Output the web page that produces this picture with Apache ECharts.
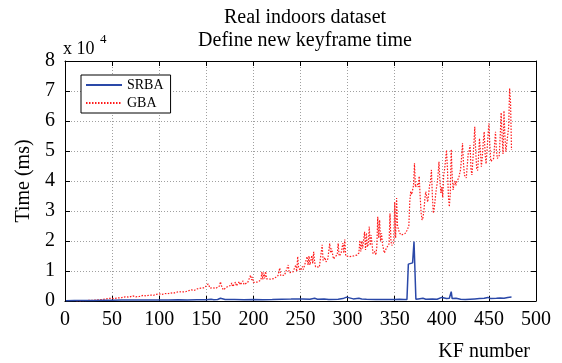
<!DOCTYPE html>
<html>
<head>
<meta charset="utf-8">
<script src="https://cdn.jsdelivr.net/npm/echarts@6/dist/echarts.min.js"></script>
<style>
  html, body { margin: 0; padding: 0; background: #fff; }
  #chart { width: 562px; height: 363px; }
</style>
</head>
<body>
<div id="chart"></div>
<script>
// Keyframe numbers and per-keyframe timings (ms)
const srbaKF = [1, 10, 20, 30, 40, 50, 60, 70, 80, 90, 100, 110, 120, 130, 140, 150, 155, 158, 160, 162, 165, 167, 170, 180, 190, 200, 210, 220, 230, 240, 248, 250, 252, 260, 265, 268, 275, 280, 290, 295, 299, 301, 306, 312, 315, 320, 330, 340, 350, 355, 360, 363, 364.5, 366, 369, 370.5, 372.5, 375, 380, 383, 390, 395, 400, 402, 405, 408, 410, 411, 415, 420, 425, 430, 435, 437, 440, 445, 449, 452, 458, 462, 466, 470, 474];
const srbaTime = [100, 150, 200, 200, 250, 250, 300, 300, 300, 350, 300, 350, 400, 350, 400, 450, 600, 450, 800, 500, 900, 600, 500, 500, 450, 500, 450, 500, 600, 650, 700, 1100, 700, 600, 900, 600, 700, 500, 600, 800, 1300, 800, 700, 900, 700, 600, 500, 500, 500, 600, 500, 500, 12300, 12400, 12700, 19800, 600, 700, 900, 600, 700, 600, 1200, 700, 800, 900, 3100, 800, 900, 600, 500, 600, 700, 1100, 800, 900, 1200, 800, 900, 1000, 900, 1200, 1300];

const gbaKF = [12, 20, 25, 30, 35, 40, 44, 48, 52, 56, 60, 64, 68, 72, 75, 79, 83, 86, 90, 94, 97, 100, 103, 106, 109, 112, 115, 118, 121, 124, 126, 128, 131, 134, 137, 140, 142, 144, 146, 148, 150, 152, 154, 157, 160, 162, 164, 165, 166, 168, 170, 172, 174, 176, 177, 178, 180, 181, 182, 184, 185, 186, 188, 189, 190, 192, 194, 196, 197, 198, 199, 200, 202, 204, 206, 208, 209, 210, 211, 212, 213, 214, 216, 218, 220, 222, 224, 226, 228, 229, 231, 233, 235, 237, 238, 240, 242, 244, 245, 246, 247, 248, 250, 252, 253, 255, 257, 258, 259, 260, 262, 263, 264, 265, 266, 268, 270, 272, 273, 274, 276, 277, 279, 281, 282, 283, 285, 287, 289, 290, 291, 293, 295, 296, 297, 298, 300, 302, 304, 306, 308, 310, 312, 313, 314, 315, 316, 318, 319, 320, 321, 322, 323, 324, 325, 327, 329, 330, 331, 332, 333, 334, 335, 336, 337, 339, 341, 343, 344, 345, 346, 347, 349, 350, 351, 352, 353, 355, 357, 359, 361, 363, 365, 366, 367, 368, 369, 370, 371, 372, 373, 374, 375, 376, 377, 378, 379, 380, 381, 382, 383, 384, 385, 386, 387, 388, 389, 390, 391, 392, 393, 394, 395, 396, 397, 398, 399, 400, 401, 402, 403, 404, 405, 406, 407, 408, 409, 410, 411, 412, 413, 414, 415, 416, 417, 418, 419, 420, 421, 422, 423, 424, 425, 426, 427, 428, 429, 430, 431, 432, 433, 434, 435, 436, 437, 438, 439, 440, 441, 442, 443, 444, 445, 446, 447, 448, 449, 450, 451, 452, 453, 454, 455, 456, 457, 458, 459, 460, 461, 462, 463, 464, 465, 466, 467, 468, 469, 470, 471, 472, 473, 474];
const gbaTime = [0, 100, 200, 250, 400, 500, 700, 900, 800, 1000, 1100, 1400, 1300, 1700, 1400, 1500, 1900, 1700, 2000, 1900, 2200, 2400, 2200, 2500, 2400, 2700, 2600, 2900, 3100, 3000, 3600, 3100, 3400, 3700, 3500, 4000, 3800, 4300, 4000, 4400, 4200, 5700, 4300, 4400, 4200, 4600, 5000, 6400, 5200, 3700, 4200, 4700, 4500, 5200, 6000, 4800, 5400, 6300, 5000, 5600, 6500, 5400, 5800, 6700, 5500, 6000, 6200, 6400, 8600, 7000, 8000, 6200, 6000, 6300, 6500, 7000, 9700, 7200, 9500, 7500, 9800, 7400, 7000, 7300, 7800, 7500, 8000, 8400, 11000, 8500, 8000, 8600, 9000, 12000, 9400, 9000, 9700, 10200, 12000, 9800, 14800, 11000, 10200, 11500, 10500, 11000, 14800, 12000, 15000, 12000, 15200, 12500, 16400, 13000, 11400, 11000, 11300, 11000, 18700, 13500, 14500, 13000, 14000, 19200, 16000, 17500, 14000, 14300, 15500, 19200, 15000, 15700, 19300, 16000, 20500, 15000, 14700, 14800, 15300, 15000, 15600, 15300, 16000, 20200, 16500, 20000, 17500, 23100, 17000, 22700, 18000, 19000, 24800, 18500, 22000, 15800, 16500, 15300, 18000, 28100, 21000, 27000, 20000, 22600, 19000, 16000, 17500, 17000, 19000, 29200, 20000, 18500, 19500, 33000, 21000, 34300, 25000, 22700, 22000, 21500, 22500, 23500, 25000, 33000, 36500, 35500, 37000, 38500, 45900, 38000, 37500, 39000, 38000, 41600, 35000, 29500, 27000, 27800, 30000, 34000, 36500, 37000, 33000, 35500, 38500, 40000, 43700, 35000, 29300, 31000, 34000, 37000, 39000, 42000, 46400, 40000, 36000, 38000, 34500, 42000, 44000, 47000, 50300, 44000, 35000, 31400, 36000, 50500, 42000, 37000, 39000, 40000, 38500, 40000, 39500, 41000, 40500, 44000, 48000, 52600, 46000, 42000, 41400, 41000, 45000, 49000, 50000, 52000, 44000, 42000, 47000, 52000, 58100, 50000, 44200, 43500, 48000, 54200, 50000, 44800, 48000, 53000, 56400, 49000, 45700, 50000, 55000, 59200, 52000, 46500, 47000, 46800, 47500, 52000, 56400, 50000, 47500, 48000, 48500, 55000, 62800, 55000, 49000, 63400, 55000, 49800, 50000, 50300, 58000, 70900, 66000, 50300];

const xTicks = { min: 0, max: 500, step: 50 };
const yTicks = { min: 0, max: 80000, step: 10000, scale: 10000 };

const pairs = (xs, ys) => xs.map((x, i) => [x, ys[i]]);

const FONT = 'Liberation Serif';
const gridLine = { show: true, lineStyle: { color: '#a0a0a0', type: [1, 2], width: 1 } };
const frameLine = { show: true, onZero: false, lineStyle: { color: '#000', width: 1 } };
const innerTick = { show: true, inside: true, length: 5, lineStyle: { color: '#000', width: 1 } };

const chart = echarts.init(document.getElementById('chart'), null, { renderer: 'canvas' });

chart.setOption({
  animation: false,
  backgroundColor: '#fff',
  textStyle: { fontFamily: FONT, color: '#000' },
  grid: { left: 65, right: 26, top: 61, bottom: 62, containLabel: false },
  graphic: [
    { type: 'text', x: 305, y: 8, style: { text: 'Real indoors dataset', font: '20px "Liberation Serif"', fill: '#000', textAlign: 'center' } },
    { type: 'text', x: 305, y: 31, style: { text: 'Define new keyframe time', font: '20px "Liberation Serif"', fill: '#000', textAlign: 'center' } },
    { type: 'text', x: 63, y: 40, style: { text: 'x 10', font: '18px "Liberation Serif"', fill: '#000' } },
    { type: 'text', x: 100, y: 33, style: { text: '4', font: '13px "Liberation Serif"', fill: '#000' } }
  ],
  legend: {
    left: 81, top: 75,
    orient: 'vertical',
    backgroundColor: '#fff',
    borderColor: '#000', borderWidth: 1, borderRadius: 0,
    padding: [3, 7, 3, 4],
    itemWidth: 36, itemHeight: 10, itemGap: 4,
    itemStyle: { opacity: 0 },
    textStyle: { fontFamily: FONT, fontSize: 14, color: '#000' },
    data: ['SRBA', 'GBA']
  },
  xAxis: [
    {
      type: 'value', position: 'bottom', min: xTicks.min, max: xTicks.max, interval: xTicks.step,
      axisLine: frameLine, axisTick: innerTick, splitLine: gridLine,
      axisLabel: { fontFamily: FONT, fontSize: 20, color: '#000', margin: 9 },
      name: 'KF number', nameLocation: 'end', nameGap: -6,
      nameTextStyle: { fontFamily: FONT, fontSize: 20, color: '#000', align: 'right', verticalAlign: 'top', padding: [41, 0, 0, 0] }
    },
    {
      type: 'value', position: 'top', min: xTicks.min, max: xTicks.max, interval: xTicks.step,
      axisLine: frameLine, axisTick: innerTick, splitLine: { show: false }, axisLabel: { show: false }
    }
  ],
  yAxis: [
    {
      type: 'value', position: 'left', min: yTicks.min, max: yTicks.max, interval: yTicks.step,
      axisLine: frameLine, axisTick: innerTick, splitLine: gridLine,
      axisLabel: { fontFamily: FONT, fontSize: 20, color: '#000', margin: 10, formatter: v => String(v / yTicks.scale) },
      name: 'Time (ms)', nameLocation: 'middle', nameGap: 31, nameRotate: 90,
      nameTextStyle: { fontFamily: FONT, fontSize: 20, color: '#000' }
    },
    {
      type: 'value', position: 'right', min: yTicks.min, max: yTicks.max, interval: yTicks.step,
      axisLine: frameLine, axisTick: innerTick, splitLine: { show: false }, axisLabel: { show: false }
    }
  ],
  series: [
    {
      name: 'SRBA', type: 'line', xAxisIndex: 0, yAxisIndex: 0,
      data: pairs(srbaKF, srbaTime),
      showSymbol: false, symbol: 'none',
      lineStyle: { color: '#2a48a8', width: 1.5 },
      itemStyle: { color: '#2a48a8' },
      z: 3
    },
    {
      name: 'GBA', type: 'line', xAxisIndex: 0, yAxisIndex: 0,
      data: pairs(gbaKF, gbaTime),
      showSymbol: false, symbol: 'none',
      lineStyle: { color: '#ff1a1a', width: 1.2, type: [1.5, 1.5] },
      itemStyle: { color: '#ff1a1a' },
      z: 2
    }
  ]
});
</script>
</body>
</html>
